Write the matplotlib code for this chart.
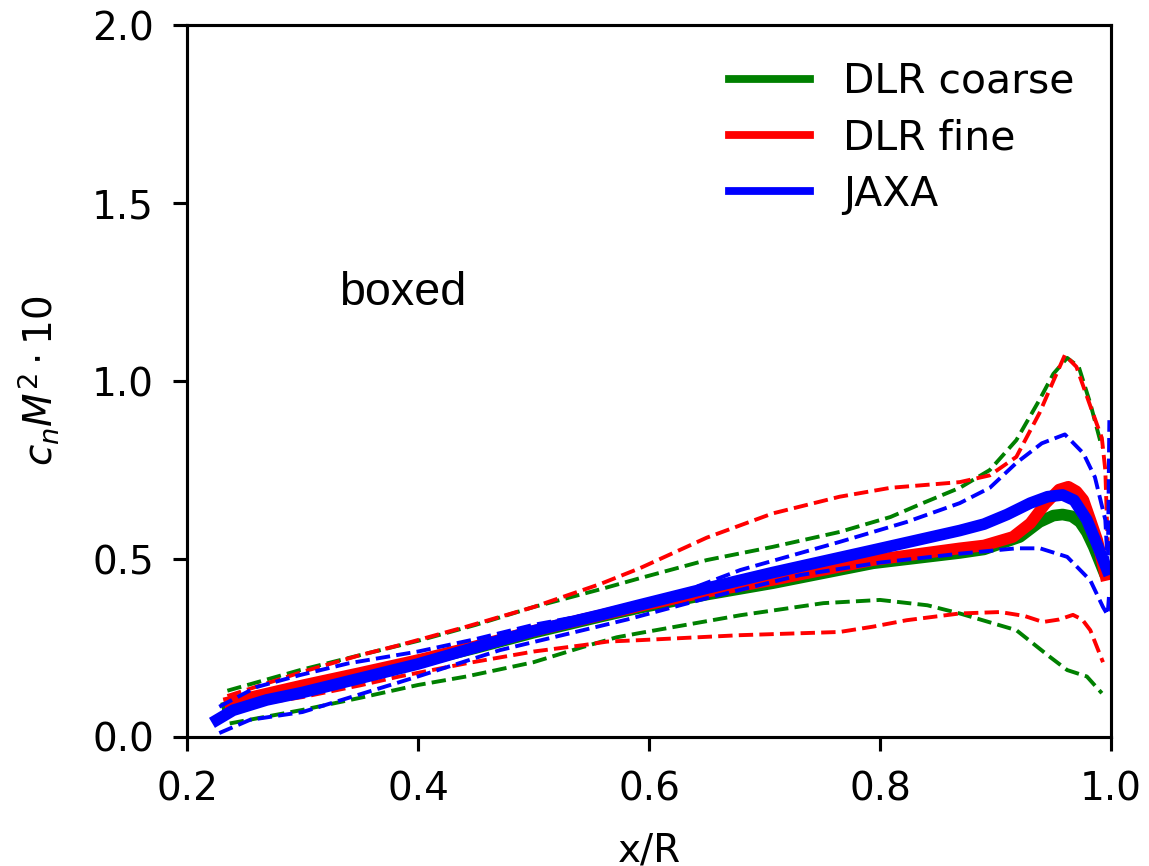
import matplotlib
matplotlib.use("Agg")
import matplotlib.pyplot as plt
from matplotlib.lines import Line2D

# mean curves (thick)
coarse_x = [0.235, 0.26, 0.30, 0.35, 0.40, 0.45, 0.50, 0.558, 0.592, 0.65, 0.707, 0.794, 0.869, 0.89,
            0.921, 0.938, 0.95, 0.958, 0.966, 0.973, 0.979, 0.985, 0.993]
coarse_y = [0.084, 0.105, 0.14, 0.175, 0.21, 0.25, 0.293, 0.338, 0.363, 0.40, 0.432, 0.488, 0.517, 0.527,
            0.562, 0.604, 0.622, 0.625, 0.62, 0.604, 0.575, 0.534, 0.47]
fine_x = [0.237, 0.26, 0.30, 0.35, 0.40, 0.45, 0.50, 0.558, 0.592, 0.65, 0.707, 0.794, 0.869, 0.89,
          0.915, 0.93, 0.943, 0.955, 0.963, 0.97, 0.976, 0.982, 0.988, 0.995]
fine_y = [0.098, 0.115, 0.145, 0.18, 0.216, 0.255, 0.298, 0.342, 0.368, 0.408, 0.441, 0.497, 0.53, 0.538,
          0.562, 0.60, 0.655, 0.695, 0.703, 0.69, 0.666, 0.61, 0.553, 0.455]
jaxa_x = [0.226, 0.24, 0.269, 0.30, 0.35, 0.40, 0.45, 0.50, 0.558, 0.592, 0.65, 0.707, 0.794, 0.869,
          0.89, 0.91, 0.93, 0.945, 0.958, 0.968, 0.979, 0.988, 0.9965]
jaxa_y = [0.048, 0.075, 0.104, 0.125, 0.165, 0.205, 0.252, 0.298, 0.343, 0.371, 0.418, 0.462, 0.525, 0.58,
          0.598, 0.625, 0.657, 0.675, 0.68, 0.665, 0.61, 0.54, 0.47]

# upper / lower bounds (dashed)
coarse_up_x = [0.235, 0.298, 0.35, 0.40, 0.45, 0.50, 0.558, 0.592, 0.65, 0.707, 0.765, 0.809, 0.837,
               0.869, 0.895, 0.918, 0.938, 0.95, 0.962, 0.972, 0.982, 0.992]
coarse_up_y = [0.13, 0.188, 0.23, 0.27, 0.315, 0.365, 0.415, 0.446, 0.497, 0.534, 0.576, 0.618, 0.657,
               0.70, 0.75, 0.834, 0.947, 1.02, 1.065, 1.04, 0.937, 0.815]
coarse_lo_x = [0.237, 0.30, 0.35, 0.40, 0.442, 0.50, 0.543, 0.572, 0.592, 0.679, 0.751, 0.80, 0.841,
               0.869, 0.918, 0.947, 0.962, 0.979, 0.992]
coarse_lo_y = [0.038, 0.076, 0.11, 0.146, 0.17, 0.21, 0.253, 0.28, 0.292, 0.342, 0.376, 0.385, 0.37,
               0.347, 0.30, 0.225, 0.188, 0.17, 0.123]
fine_up_x = [0.235, 0.30, 0.35, 0.384, 0.442, 0.50, 0.558, 0.592, 0.65, 0.707, 0.765, 0.809, 0.869,
             0.895, 0.918, 0.938, 0.95, 0.96, 0.97, 0.982, 0.992, 0.995, 0.997]
fine_up_y = [0.115, 0.183, 0.23, 0.258, 0.31, 0.365, 0.43, 0.474, 0.56, 0.628, 0.675, 0.70, 0.716,
             0.735, 0.787, 0.91, 1.0, 1.073, 1.04, 0.93, 0.84, 0.75, 0.55]
fine_lo_x = [0.237, 0.30, 0.35, 0.384, 0.442, 0.50, 0.543, 0.564, 0.592, 0.679, 0.765, 0.794, 0.823,
             0.869, 0.904, 0.925, 0.941, 0.955, 0.967, 0.975, 0.982, 0.993]
fine_lo_y = [0.08, 0.112, 0.145, 0.17, 0.207, 0.24, 0.258, 0.268, 0.272, 0.286, 0.295, 0.31, 0.328,
             0.347, 0.351, 0.34, 0.323, 0.33, 0.343, 0.33, 0.30, 0.21]
jaxa_up_x = [0.228, 0.26, 0.298, 0.34, 0.40, 0.45, 0.50, 0.558, 0.615, 0.679, 0.765, 0.823, 0.869,
             0.895, 0.918, 0.94, 0.96, 0.976, 0.986, 0.995, 0.9972, 0.9985]
jaxa_up_y = [0.085, 0.14, 0.174, 0.207, 0.24, 0.275, 0.315, 0.35, 0.39, 0.469, 0.548, 0.604, 0.657,
             0.70, 0.77, 0.825, 0.85, 0.797, 0.73, 0.61, 0.48, 0.89]
jaxa_lo_x = [0.228, 0.2545, 0.30, 0.35, 0.40, 0.471, 0.53, 0.581, 0.65, 0.731, 0.80, 0.869, 0.918,
             0.9385, 0.962, 0.982, 0.993, 0.997, 0.9985]
jaxa_lo_y = [0.011, 0.048, 0.07, 0.12, 0.17, 0.244, 0.29, 0.33, 0.39, 0.455, 0.49, 0.515, 0.53,
             0.53, 0.506, 0.44, 0.365, 0.343, 0.41]

labels = ['DLR coarse', 'DLR fine', 'JAXA']
colors = ['g', 'r', 'b']

fig = plt.figure(figsize=(1149 / 280, 866 / 280), dpi=280)
ax = fig.add_axes([0.1627, 0.149, 0.967 - 0.1627, 0.971 - 0.149])

sets = [
    (coarse_x, coarse_y, coarse_up_x, coarse_up_y, coarse_lo_x, coarse_lo_y),
    (fine_x, fine_y, fine_up_x, fine_up_y, fine_lo_x, fine_lo_y),
    (jaxa_x, jaxa_y, jaxa_up_x, jaxa_up_y, jaxa_lo_x, jaxa_lo_y),
]
for (mx, my, ux, uy, lx, ly), c in zip(sets, colors):
    ax.plot(mx, my, color=c, lw=3)
    ax.plot(ux, uy, color=c, lw=1, ls='--')
    ax.plot(lx, ly, color=c, lw=1, ls='--')

handles = [Line2D([], [], color=c, lw=2) for c in colors]
ax.legend(handles, labels, loc='upper right', frameon=False, fontsize=10.5,
          labelspacing=0.4)

ax.text(0.332, 1.213, 'boxed', fontsize=12, family='Liberation Sans', va='baseline')

ax.set_xlim(0.2, 1.0)
ax.set_ylim(0.0, 2.0)
ax.set_xticks([0.2, 0.4, 0.6, 0.8, 1.0])
ax.set_yticks([0.0, 0.5, 1.0, 1.5, 2.0])
ax.tick_params(axis='x', pad=5)
ax.tick_params(axis='y', pad=5)
ax.set_xlabel('x/R', labelpad=6)
ax.set_ylabel(r'$c_n M^2 \cdot 10$', labelpad=8)

fig.savefig('out.png', dpi=280)
